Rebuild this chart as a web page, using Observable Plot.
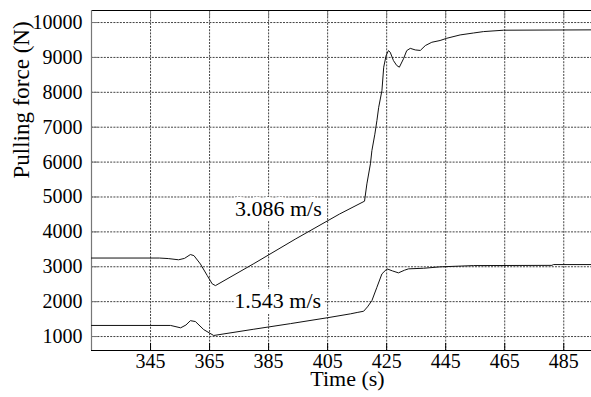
<!DOCTYPE html>
<html>
<head>
<meta charset="utf-8">
<script src="https://cdn.jsdelivr.net/npm/d3@7"></script>
<script src="https://cdn.jsdelivr.net/npm/@observablehq/plot@0.6"></script>
<style>
  html, body { margin: 0; padding: 0; background: #fff; }
  #chart svg { display: block; }
</style>
</head>
<body>
<div id="chart"></div>
<script>
// Time axis (s) and pulling force (N) for the 3.086 m/s case
const timeFast = [325, 348, 351, 354.5, 356.5, 358.5, 359.7, 361.9, 364.2, 365.9, 367, 380, 394, 409, 417.5,
  418.3, 419.5, 420, 421, 421.7, 422.3, 423.4, 424, 424.8, 425.6, 426.2, 427.3, 428.4, 429.3, 430.7, 431.8,
  433, 434.7, 436.4, 438.1, 440.3, 443.1, 445.4, 449.9, 454.4, 457.8, 464.6, 494.4];
const forceFast = [3250, 3250, 3235, 3200, 3240, 3350, 3320, 3080, 2750, 2510, 2460, 3090, 3790, 4510, 4880,
  5375, 5950, 6330, 6800, 7190, 7570, 8050, 8720, 9050, 9195, 9150, 8910, 8770, 8720, 8960, 9195,
  9260, 9215, 9200, 9340, 9435, 9485, 9550, 9645, 9700, 9740, 9780, 9790];

// Time axis (s) and pulling force (N) for the 1.543 m/s case
const timeSlow = [325, 351.8, 355.2, 357, 358.5, 360.2, 363, 366.4, 380, 392.4, 405, 412.7, 415, 417.2,
  418.5, 420, 421.7, 423.4, 425.1, 427, 429, 431, 432.4, 437.5, 443.1, 454.4, 481, 481.5, 494.4];
const forceSlow = [1318, 1318, 1250, 1330, 1455, 1430, 1200, 1030, 1210, 1370, 1540, 1650, 1690, 1725,
  1850, 2030, 2413, 2797, 2940, 2880, 2825, 2900, 2940, 2957, 2997, 3034, 3040, 3063, 3063];

// Tick values
const xTicks = [345, 365, 385, 405, 425, 445, 465, 485];
const yTicks = [1000, 2000, 3000, 4000, 5000, 6000, 7000, 8000, 9000, 10000];
const xDomain = [325, 494.4];
const yDomain = [600, 10345];

// Curve annotations
const labelText = ["3.086 m/s", "1.543 m/s"];
const labelTime = [388.3, 388.1];
const labelForce = [4651, 2023];

const series = [
  ...timeFast.map((t, i) => ({t, f: forceFast[i], s: "3.086"})),
  ...timeSlow.map((t, i) => ({t, f: forceSlow[i], s: "1.543"}))
];
const labels = labelText.map((text, i) => ({text, t: labelTime[i], f: labelForce[i]}));

const font = "'Liberation Serif', 'Times New Roman', serif";

const chart = Plot.plot({
  width: 591,
  height: 397,
  marginLeft: 91,
  marginRight: 0,
  marginTop: 10,
  marginBottom: 47,
  style: {"font-family": font, "font-size": "20px", "color": "#000", "background": "#fff"},
  x: {domain: xDomain},
  y: {domain: yDomain},
  marks: [
    Plot.ruleX(xTicks, {stroke: "#444", strokeWidth: 1, strokeDasharray: "2,1.2"}),
    Plot.ruleY(yTicks, {stroke: "#444", strokeWidth: 1, strokeDasharray: "2,1.2"}),
    // axes (labels only; ticks drawn inward below)
    Plot.axisX({ticks: xTicks, tickSize: 0, tickPadding: 3, tickFormat: d => `${d}`, label: null,
      fontSize: 20, fontFamily: font, fill: "#000"}),
    Plot.axisY({ticks: yTicks, tickSize: 0, tickPadding: 9, tickFormat: d => `${d}`, label: null,
      fontSize: 20, fontFamily: font, fill: "#000"}),
    // inward tick marks
    Plot.tickX(xTicks, {x: d => d, insetTop: 333, stroke: "#000"}),
    Plot.tickX(xTicks, {x: d => d, insetBottom: 333, stroke: "#777"}),
    Plot.tickY(yTicks, {y: d => d, insetRight: 493, stroke: "#777"}),
    // frame lines
    Plot.ruleY([yDomain[1]], {stroke: "#000", strokeWidth: 1}),
    Plot.ruleY([yDomain[0]], {stroke: "#000", strokeWidth: 1}),
    Plot.ruleX([xDomain[0]], {stroke: "#777", strokeWidth: 1.2}),
    // curves
    Plot.line(series, {x: "t", y: "f", z: "s", stroke: "#111", strokeWidth: 1}),
    // annotations with white halo
    Plot.text(labels, {x: "t", y: "f", text: "text", fontSize: 22, fontFamily: font, fill: "#000",
      stroke: "white", strokeWidth: 10, strokeLinejoin: "round"}),
    // axis titles
    Plot.text(["Time (s)"], {frameAnchor: "bottom", text: d => d, dx: 6, dy: 35, fontSize: 22, fontFamily: font, fill: "#000"}),
    Plot.text(["Pulling force (N)"], {frameAnchor: "left", text: d => d, dx: -70, dy: -2, rotate: -90, fontSize: 23, fontFamily: font, fill: "#000"})
  ]
});
document.getElementById("chart").appendChild(chart);
</script>
</body>
</html>
